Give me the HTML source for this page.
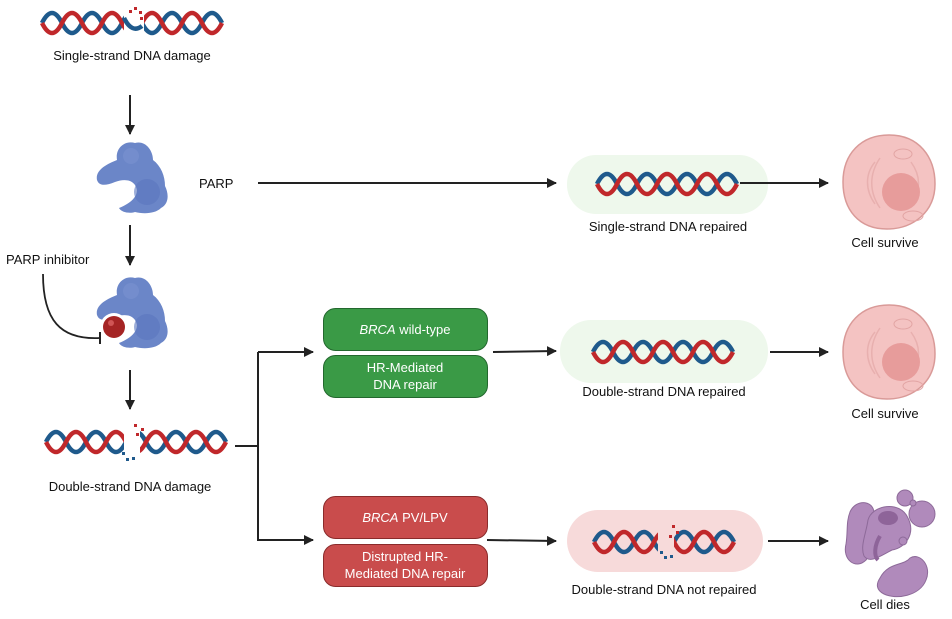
<!DOCTYPE html>
<html><head><meta charset="utf-8"><style>
html,body{margin:0;padding:0;background:#fff;}
svg{display:block;font-family:"Liberation Sans",sans-serif;}
</style></head><body>
<svg width="952" height="619" viewBox="0 0 952 619" xmlns="http://www.w3.org/2000/svg">
<defs>
<marker id="ah" viewBox="0 0 10 10" refX="9" refY="5" markerWidth="10" markerHeight="10" markerUnits="userSpaceOnUse" orient="auto"><path d="M0,0 L10,5 L0,10 z" fill="#222"/></marker>
<g id="helix">
<path d="M0,12 Q10,-8 20,12 T40,12 T60,12 T80,12 T100,12 T120,12 T140,12 T160,12 T180,12" fill="none" stroke="#1f5a8c" stroke-width="4.5"/>
<path d="M0,12 Q10,32 20,12 T40,12 T60,12 T80,12 T100,12 T120,12 T140,12 T160,12 T180,12" fill="none" stroke="#c0282b" stroke-width="4.5"/>
</g>
<g id="helixs">
<path d="M0,12 Q10,-8 20,12 T40,12 T60,12 T80,12 T100,12 T120,12 T140,12" fill="none" stroke="#1f5a8c" stroke-width="4.5"/>
<path d="M0,12 Q10,32 20,12 T40,12 T60,12 T80,12 T100,12 T120,12 T140,12" fill="none" stroke="#c0282b" stroke-width="4.5"/>
</g>
<g id="prot">
<path d="M22,20 C20,8 30,0 40,3 C50,0 58,10 58,20 C66,26 70,36 70,46 C74,54 74,64 66,68 C60,74 48,74 40,72 C34,74 26,72 24,68 C34,64 42,58 42,50 C40,40 30,38 20,42 C10,46 4,46 2,40 C0,30 12,24 22,20 z" fill="#6b86c8"/>
<circle cx="52" cy="52" r="13" fill="#5a76be" opacity="0.6"/>
<circle cx="36" cy="16" r="8" fill="#7a93d0" opacity="0.6"/>
</g>
<g id="cell">
<path d="M0,-47 C30,-47 46,-25 46,2 C46,30 24,47 -2,47 C-30,47 -46,28 -46,0 C-46,-28 -28,-47 0,-47 z" fill="#f4c3c2" stroke="#d99a98" stroke-width="1.5"/>
<path d="M-14,-20 C-24,-8 -24,8 -14,22 M-9,-24 C-20,-8 -20,10 -9,26 M22,-20 C32,-6 32,8 22,22" fill="none" stroke="#e8b0af" stroke-width="1.5"/>
<circle cx="12" cy="10" r="19" fill="#e79c9b"/>
<ellipse cx="14" cy="-28" rx="9" ry="5" fill="none" stroke="#e2a5a4"/>
<ellipse cx="24" cy="34" rx="10" ry="5" fill="none" stroke="#e2a5a4"/>
</g>
</defs>

<!-- Top DNA -->
<use href="#helix" x="42" y="11"/>
<rect x="124" y="4" width="20" height="36" fill="#fff"/>
<g fill="#c0282b"><rect x="129" y="10" width="3" height="3"/><rect x="134" y="7" width="3" height="3"/><rect x="139" y="11" width="3" height="3"/><rect x="140" y="17" width="3" height="3"/></g>
<path d="M124,18 Q132,34 142,26" fill="none" stroke="#1f5a8c" stroke-width="4.5"/>
<text x="132" y="60" font-size="13" text-anchor="middle" fill="#111">Single-strand DNA damage</text>

<line x1="130" y1="95" x2="130" y2="134" stroke="#222" stroke-width="2" marker-end="url(#ah)"/>
<use href="#prot" x="95" y="140"/>
<text x="199" y="188" font-size="13" fill="#111">PARP</text>
<line x1="130" y1="225" x2="130" y2="265" stroke="#222" stroke-width="2" marker-end="url(#ah)"/>

<text x="6" y="264" font-size="13" fill="#111">PARP inhibitor</text>
<path d="M43,274 C43,320 60,340 100,338" fill="none" stroke="#222" stroke-width="1.8"/>
<line x1="100" y1="332" x2="100" y2="344" stroke="#222" stroke-width="2"/>
<use href="#prot" x="95" y="275"/>
<circle cx="114" cy="327" r="14" fill="#fff"/>
<circle cx="114" cy="327" r="11" fill="#a52424"/>
<circle cx="111" cy="323" r="3" fill="#d05555"/>

<line x1="130" y1="370" x2="130" y2="409" stroke="#222" stroke-width="2" marker-end="url(#ah)"/>

<!-- DS damage -->
<use href="#helix" x="46" y="430"/>
<rect x="124" y="420" width="16" height="42" fill="#fff"/>
<g fill="#c0282b"><rect x="134" y="424" width="3" height="3"/><rect x="141" y="428" width="3" height="3"/><rect x="136" y="433" width="3" height="3"/></g>
<g fill="#1f5a8c"><rect x="122" y="452" width="3" height="3"/><rect x="126" y="458" width="3" height="3"/><rect x="132" y="457" width="3" height="3"/></g>
<text x="130" y="491" font-size="13" text-anchor="middle" fill="#111">Double-strand DNA damage</text>

<!-- branch -->
<line x1="235" y1="446" x2="258" y2="446" stroke="#222" stroke-width="2"/>
<line x1="258" y1="352" x2="258" y2="541" stroke="#222" stroke-width="2"/>
<line x1="258" y1="352" x2="313" y2="352" stroke="#222" stroke-width="2" marker-end="url(#ah)"/>
<line x1="258" y1="540" x2="313" y2="540" stroke="#222" stroke-width="2" marker-end="url(#ah)"/>

<!-- green boxes -->
<rect x="323.5" y="308.5" width="164" height="42" rx="12" fill="#3a9a46" stroke="#23682e"/>
<text x="405" y="334" font-size="13" text-anchor="middle" fill="#fff"><tspan font-style="italic">BRCA</tspan> wild-type</text>
<rect x="323.5" y="355.5" width="164" height="42" rx="12" fill="#3a9a46" stroke="#23682e"/>
<text x="405" y="372" font-size="13" text-anchor="middle" fill="#fff">HR-Mediated</text>
<text x="405" y="389" font-size="13" text-anchor="middle" fill="#fff">DNA repair</text>

<!-- red boxes -->
<rect x="323.5" y="496.5" width="164" height="42" rx="12" fill="#c94c4c" stroke="#8a2b2b"/>
<text x="405" y="522" font-size="13" text-anchor="middle" fill="#fff"><tspan font-style="italic">BRCA</tspan> PV/LPV</text>
<rect x="323.5" y="544.5" width="164" height="42" rx="12" fill="#c94c4c" stroke="#8a2b2b"/>
<text x="405" y="561" font-size="13" text-anchor="middle" fill="#fff">Distrupted HR-</text>
<text x="405" y="578" font-size="13" text-anchor="middle" fill="#fff">Mediated DNA repair</text>

<!-- arrows to pills -->
<line x1="258" y1="183" x2="556" y2="183" stroke="#222" stroke-width="2" marker-end="url(#ah)"/>
<line x1="493" y1="352" x2="556" y2="351" stroke="#222" stroke-width="2" marker-end="url(#ah)"/>
<line x1="487" y1="540" x2="556" y2="541" stroke="#222" stroke-width="2" marker-end="url(#ah)"/>

<!-- pills -->
<rect x="567" y="155" width="201" height="59" rx="29" fill="#eef8ec"/>
<use href="#helixs" x="597" y="172"/>
<text x="668" y="231" font-size="13" text-anchor="middle" fill="#111">Single-strand DNA repaired</text>

<rect x="560" y="320" width="208" height="63" rx="31" fill="#eef8ec"/>
<use href="#helixs" x="593" y="340"/>
<text x="664" y="396" font-size="13" text-anchor="middle" fill="#111">Double-strand DNA repaired</text>

<rect x="567" y="510" width="196" height="62" rx="31" fill="#f7dada"/>
<use href="#helixs" x="594" y="530"/>
<rect x="658" y="520" width="16" height="42" fill="#f7dada"/>
<g fill="#c0282b"><rect x="672" y="525" width="3" height="3"/><rect x="676" y="531" width="3" height="3"/><rect x="669" y="535" width="3" height="3"/></g>
<g fill="#1f5a8c"><rect x="660" y="551" width="3" height="3"/><rect x="664" y="556" width="3" height="3"/><rect x="670" y="555" width="3" height="3"/></g>
<text x="664" y="594" font-size="13" text-anchor="middle" fill="#111">Double-strand DNA not repaired</text>

<!-- arrows to cells -->
<line x1="740" y1="183" x2="828" y2="183" stroke="#222" stroke-width="2" marker-end="url(#ah)"/>
<line x1="770" y1="352" x2="828" y2="352" stroke="#222" stroke-width="2" marker-end="url(#ah)"/>
<line x1="768" y1="541" x2="828" y2="541" stroke="#222" stroke-width="2" marker-end="url(#ah)"/>

<!-- cells -->
<use href="#cell" x="889" y="182"/>
<text x="885" y="247" font-size="13" text-anchor="middle" fill="#111">Cell survive</text>
<use href="#cell" x="889" y="352"/>
<text x="885" y="418" font-size="13" text-anchor="middle" fill="#111">Cell survive</text>

<g fill="#b08abb" stroke="#8d6a99" stroke-width="1">
<path d="M850,512 C856,498 876,500 874,516 C872,530 876,548 866,560 C856,570 842,560 846,544 C848,532 846,522 850,512 z"/>
<path d="M868,520 C872,505 900,500 908,518 C916,534 905,548 892,550 C880,556 870,564 864,556 C860,546 866,534 868,520 z"/>
<path d="M880,578 C888,562 904,566 910,558 C920,552 932,566 926,580 C920,596 896,600 884,594 C876,590 876,584 880,578 z"/>
<circle cx="905" cy="498" r="8"/>
<circle cx="922" cy="514" r="13"/>
<circle cx="913" cy="503" r="3"/>
<circle cx="903" cy="541" r="4"/>
</g>
<ellipse cx="888" cy="518" rx="10" ry="7" fill="#8e6499"/>
<path d="M880,536 C874,546 874,556 878,560" fill="none" stroke="#8e6499" stroke-width="4"/>
<text x="885" y="609" font-size="13" text-anchor="middle" fill="#111">Cell dies</text>
</svg>
</body></html>
